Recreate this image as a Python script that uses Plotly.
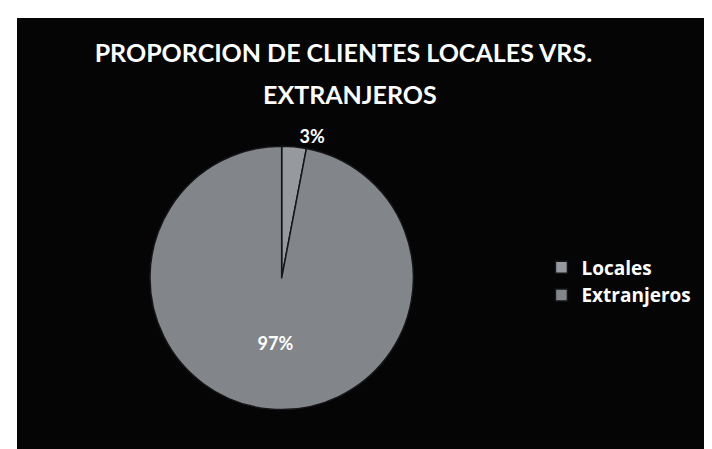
import plotly.graph_objects as go

labels = ["Locales", "Extranjeros"]
values = [3, 97]
pct_text = ["3%", "97%"]
title_lines = ["PROPORCION DE CLIENTES LOCALES VRS.", "EXTRANJEROS"]

slice_colors = ["rgb(150,154,158)", "rgb(130,134,139)"]

fig = go.Figure(go.Pie(
    labels=labels, values=values, sort=False, direction="clockwise", rotation=0,
    text=pct_text, textinfo="text", textposition=["outside", "inside"],
    insidetextorientation="horizontal",
    textfont=dict(family="Lato", size=18, color="white", weight="bold"),
    marker=dict(colors=slice_colors, line=dict(color="rgb(20,22,24)", width=1.5)),
    domain=dict(x=[0.189, 0.564], y=[0.108, 0.708]),
    hoverinfo="label+percent",
))

fig.update_layout(
    width=712, height=449,
    margin=dict(l=9, r=0, t=10, b=0),
    paper_bgcolor="white",
    title=dict(text=title_lines[0], x=0.471, xanchor="center", y=0.899, yanchor="middle",
               font=dict(family="Lato", size=25, color="white", weight="bold")),
    annotations=[dict(text=title_lines[1], xref="paper", yref="paper", x=0.474, y=0.827,
                      xanchor="center", yanchor="middle", showarrow=False,
                      font=dict(family="Lato", size=25, color="white", weight="bold"))],
    legend=dict(x=0.746, y=0.4, xanchor="left", yanchor="middle",
                font=dict(family="Open Sans", size=19, color="white", weight="bold"),
                bgcolor="rgba(0,0,0,0)"),
    shapes=[dict(type="rect", xref="paper", yref="paper", x0=0, x1=1, y0=0, y1=1,
                 fillcolor="rgb(5,5,5)", line=dict(width=0), layer="below")],
)

fig.write_html("out.html")
